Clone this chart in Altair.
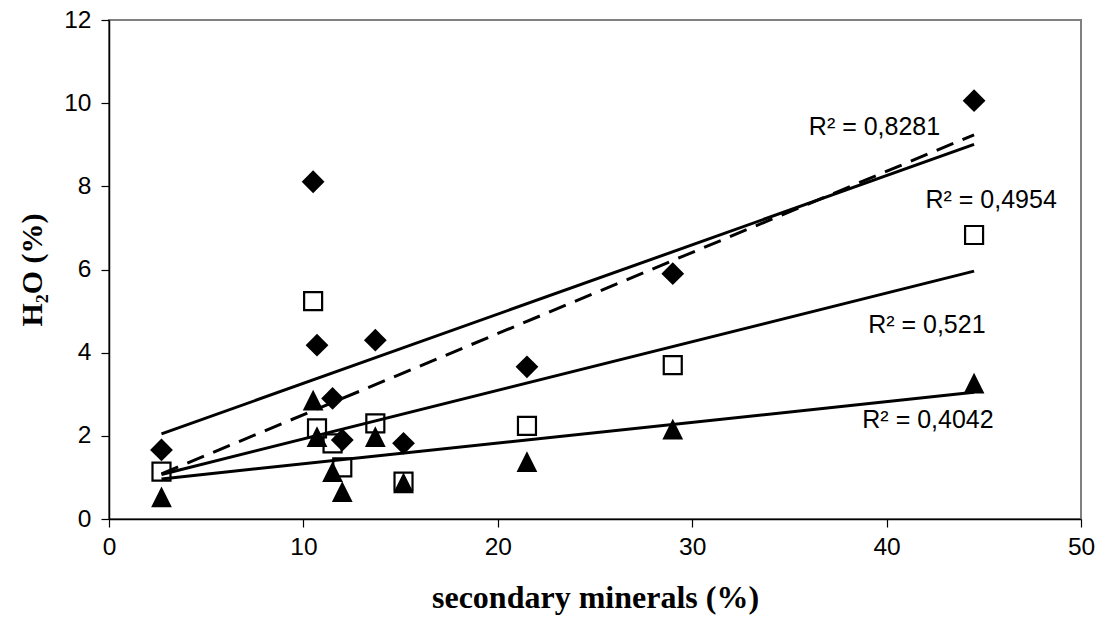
import altair as alt
import pandas as pd

# Secondary mineral content (%) of each sample
minerals = [2.7, 10.5, 10.7, 11.5, 12.0, 13.7, 15.15, 21.5, 29.0, 44.5]

# H2O (%) measured in three ways for the same samples
h2o_diamond = [1.66, 8.11, 4.18, 2.90, 1.90, 4.30, 1.82, 3.66, 5.90, 10.06]
h2o_square = [1.14, 5.24, 2.18, 1.82, 1.24, 2.30, 0.90, 2.24, 3.70, 6.83]
h2o_triangle = [0.53, 2.86, 1.98, 1.14, 0.66, 1.98, 0.87, 1.38, 2.16, 3.27]

# Samples kept for the second (dashed) fit of the diamond series
diamond_subset = [True, False, True, True, True, True, True, True, True, True]

# Coefficient-of-determination labels and their anchors (x, y in data units)
r2_text = ["R\u00b2 = 0,8281", "R\u00b2 = 0,4954", "R\u00b2 = 0,521", "R\u00b2 = 0,4042"]
r2_x = [36.0, 42.0, 39.05, 38.75]
r2_y = [9.23, 7.48, 4.47, 2.19]

rows = []
for name, ys in (("diamond", h2o_diamond), ("square", h2o_square), ("triangle", h2o_triangle)):
    for i, (xv, yv) in enumerate(zip(minerals, ys)):
        rows.append({"series": name, "x": xv, "y": yv,
                     "subset": diamond_subset[i] if name == "diamond" else False})
df = pd.DataFrame(rows)
labels = pd.DataFrame({"text": r2_text, "x": r2_x, "y": r2_y})

AX_FONT = "Liberation Sans"
TITLE_FONT = "Liberation Serif"

xscale = alt.Scale(domain=[0, 50], nice=False, zero=False)
yscale = alt.Scale(domain=[0, 12], nice=False, zero=False)

x_enc = alt.X("x:Q", scale=xscale, title="secondary minerals (%)",
              axis=alt.Axis(values=[0, 10, 20, 30, 40, 50], grid=False,
                            domainColor="black", domainWidth=1.5,
                            tickColor="black", tickSize=8, tickWidth=1.2,
                            labelFont=AX_FONT, labelFontSize=24.5, labelColor="black",
                            labelPadding=8, labelFlush=False,
                            titleFont=TITLE_FONT, titleFontSize=32, titleFontWeight="bold",
                            titleColor="black", titlePadding=24))
y_enc = alt.Y("y:Q", scale=yscale, title="H\u2082O (%)",
              axis=alt.Axis(values=[0, 2, 4, 6, 8, 10, 12], grid=False,
                            domainColor="black", domainWidth=1.5,
                            tickColor="black", tickSize=8, tickWidth=1.2,
                            labelFont=AX_FONT, labelFontSize=24.5, labelColor="black",
                            labelPadding=10, labelFlush=False,
                            titleFont=TITLE_FONT, titleFontSize=30, titleFontWeight="bold",
                            titleColor="black", titlePadding=16))

base = alt.Chart(df)

squares = base.transform_filter(alt.datum.series == "square").mark_point(
    shape="square", size=324, filled=False, stroke="black", strokeWidth=2.2, opacity=1
).encode(x=x_enc, y=y_enc)

diamonds = base.transform_filter(alt.datum.series == "diamond").mark_point(
    shape="diamond", size=520, filled=True, color="black", opacity=1
).encode(x="x:Q", y="y:Q")

triangles = base.transform_filter(alt.datum.series == "triangle").mark_point(
    shape="M0,-1L1,1L-1,1Z", size=430, filled=True, color="black", opacity=1
).encode(x="x:Q", y="y:Q")

# Linear trend of each series over its own x extent
fits = base.transform_regression("x", "y", groupby=["series"]).mark_line(
    color="black", strokeWidth=3
).encode(x="x:Q", y="y:Q", detail="series:N")

# Linear trend of the diamond series without its outlier
fit_subset = base.transform_filter(
    (alt.datum.series == "diamond") & alt.datum.subset
).transform_regression("x", "y").mark_line(
    color="black", strokeWidth=3, strokeDash=[18, 10]
).encode(x="x:Q", y="y:Q")

r2 = alt.Chart(labels).mark_text(
    align="left", baseline="alphabetic", font=AX_FONT, fontSize=25, color="black"
).encode(x="x:Q", y="y:Q", text="text:N")

chart = alt.layer(squares, diamonds, triangles, fits, fit_subset, r2).properties(
    width=972, height=499,
    autosize=alt.AutoSizeParams(type="none"),
    padding={"left": 109, "top": 20, "right": 21, "bottom": 105},
    background="white",
).configure_view(stroke="#808080", strokeWidth=2)

chart.save("out.html", embed_options={"renderer": "svg", "actions": False})
